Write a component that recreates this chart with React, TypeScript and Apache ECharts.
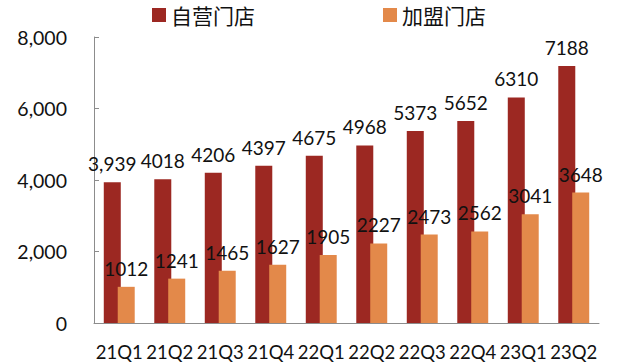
import React, { useEffect, useRef } from "react";
import * as echarts from "echarts";

const categories = ["21Q1", "21Q2", "21Q3", "21Q4", "22Q1", "22Q2", "22Q3", "22Q4", "23Q1", "23Q2"];
const selfOperated = [3939, 4018, 4206, 4397, 4675, 4968, 5373, 5652, 6310, 7188];
const selfLabels = ["3,939", "4018", "4206", "4397", "4675", "4968", "5373", "5652", "6310", "7188"];
const franchised = [1012, 1241, 1465, 1627, 1905, 2227, 2473, 2562, 3041, 3648];
const franchisedLabels = ["1012", "1241", "1465", "1627", "1905", "2227", "2473", "2562", "3041", "3648"];
const seriesNames = ["自营门店", "加盟门店"];
const yTicks = [0, 2000, 4000, 6000, 8000];

const FONT = "Lato, 'Noto Sans', sans-serif";

export default function App() {
  const ref = useRef<HTMLDivElement>(null);
  useEffect(() => {
    if (!ref.current) return;
    const chart = echarts.init(ref.current, null, { renderer: "svg" });
    chart.setOption({
      animation: false,
      backgroundColor: "#ffffff",
      legend: {
        left: 152,
        top: 4,
        padding: 0,
        itemWidth: 14,
        itemHeight: 14,
        itemGap: 128,
        icon: "rect",
        textStyle: {
          fontSize: 21,
          lineHeight: 22,
          color: "#111",
          fontFamily: "'Noto Sans CJK SC', sans-serif",
        },
        data: seriesNames,
      },
      grid: { left: 94, right: 41, top: 37, bottom: 40 },
      xAxis: {
        type: "category",
        data: categories,
        axisLine: { lineStyle: { color: "#8c8c8c", width: 1 } },
        axisTick: { inside: true, length: 5, lineStyle: { color: "#8c8c8c" } },
        axisLabel: { fontSize: 18.5, color: "#111", margin: 19, fontFamily: FONT, interval: 0 },
      },
      yAxis: {
        type: "value",
        min: yTicks[0],
        max: yTicks[yTicks.length - 1],
        interval: 2000,
        axisLine: { show: true, lineStyle: { color: "#8c8c8c", width: 1 } },
        axisTick: { show: true, inside: true, length: 5, lineStyle: { color: "#8c8c8c" } },
        splitLine: { show: false },
        axisLabel: {
          fontSize: 19.5,
          color: "#111",
          margin: 27,
          fontFamily: FONT,
          formatter: (v: number) => v.toLocaleString("en-US"),
        },
      },
      series: [
        {
          name: seriesNames[0],
          type: "bar",
          data: selfOperated,
          barWidth: 17,
          barGap: "-18%",
          itemStyle: { color: "#9C2822" },
          label: {
            show: true,
            position: "top",
            distance: 9,
            fontSize: 19,
            color: "#111",
            fontFamily: FONT,
            formatter: (p: any) => selfLabels[p.dataIndex],
          },
        },
        {
          name: seriesNames[1],
          type: "bar",
          data: franchised,
          barWidth: 17,
          itemStyle: { color: "#E3894A" },
          label: {
            show: true,
            position: "top",
            distance: 9,
            fontSize: 19,
            color: "#111",
            fontFamily: FONT,
            formatter: (p: any) => franchisedLabels[p.dataIndex],
          },
        },
      ],
    });
    return () => chart.dispose();
  }, []);
  return <div ref={ref} style={{ width: 640, height: 363, position: "absolute", left: 0, top: 0 }} />;
}
